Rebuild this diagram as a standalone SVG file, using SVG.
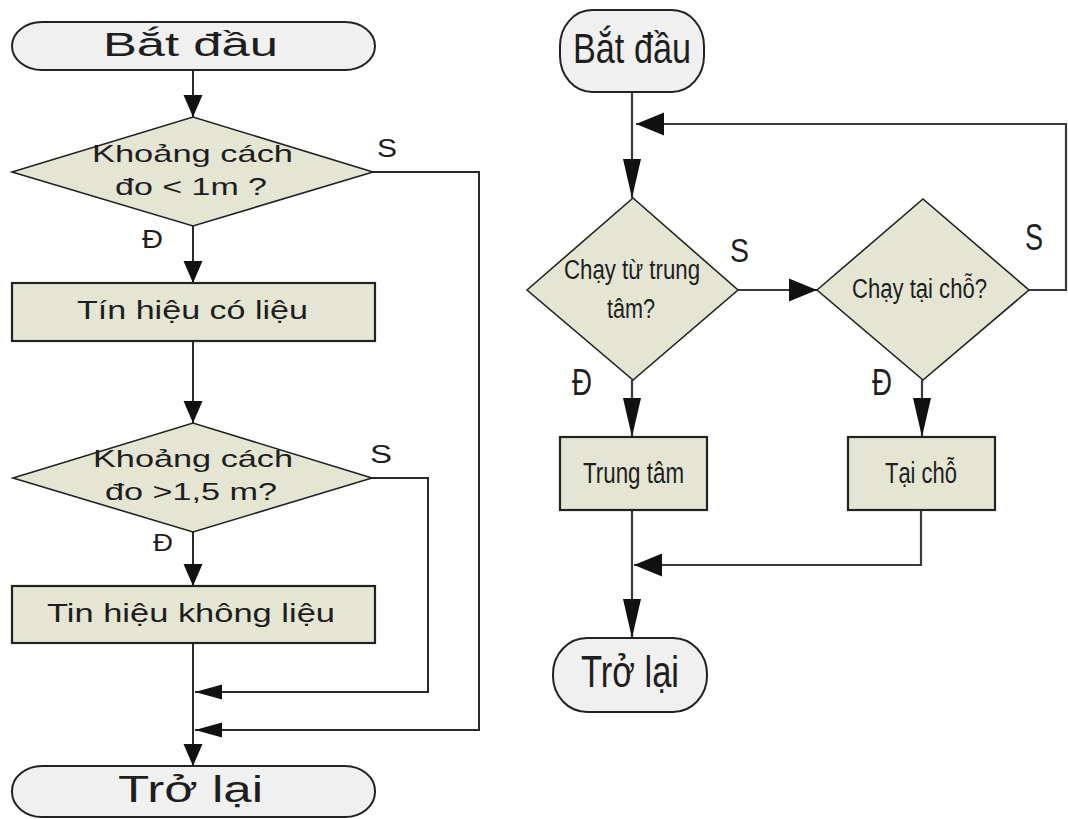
<svg xmlns="http://www.w3.org/2000/svg" width="1068" height="819" viewBox="0 0 1068 819">
  <style>
    .term { fill: #f0f0f0; stroke: #222; stroke-width: 2; }
    .dec { fill: #e5e5d3; stroke: #222; stroke-width: 1.6; }
    .proc { fill: #e5e5d3; stroke: #222; stroke-width: 2.2; }
    .wire { fill: none; stroke: #2a2a2a; stroke-width: 2; }
    .wireR { fill: none; stroke: #3a3a3a; stroke-width: 2.2; }
    text { font-family: "Liberation Sans", Arial, sans-serif; fill: #1e1e1e; text-anchor: middle; }
    .lbl { text-anchor: start; }
  </style>
  <defs>
    <!-- arrowheads: left chart -->
    <marker id="aLV" markerUnits="userSpaceOnUse" orient="auto" viewBox="0 -10 22 20" refX="22" refY="0" markerWidth="22" markerHeight="20">
      <path d="M0,-9.5 L22,0 L0,9.5 z" fill="#111"/>
    </marker>
    <marker id="aLH" markerUnits="userSpaceOnUse" orient="auto" viewBox="0 -8 27 16" refX="27" refY="0" markerWidth="27" markerHeight="16">
      <path d="M0,-7.5 L27,0 L0,7.5 z" fill="#111"/>
    </marker>
    <!-- arrowheads: right chart -->
    <marker id="aRV" markerUnits="userSpaceOnUse" orient="auto" viewBox="0 -10 39 20" refX="39" refY="0" markerWidth="39" markerHeight="20">
      <path d="M0,-9 L39,0 L0,9 z" fill="#111"/>
    </marker>
    <marker id="aRH" markerUnits="userSpaceOnUse" orient="auto" viewBox="0 -12 28 24" refX="28" refY="0" markerWidth="28" markerHeight="24">
      <path d="M0,-11.5 L28,0 L0,11.5 z" fill="#111"/>
    </marker>
  </defs>

  <!-- connectors -->
  <g id="connectors">
    <path class="wire" d="M193,70 V117" marker-end="url(#aLV)"/>
    <path class="wire" d="M193,226 V283" marker-end="url(#aLV)"/>
    <path class="wire" d="M193,341 V423" marker-end="url(#aLV)"/>
    <path class="wire" d="M193,532 V586" marker-end="url(#aLV)"/>
    <path class="wire" d="M193,643 V766" marker-end="url(#aLV)"/>
    <path class="wire" d="M372,172 H479 V730 H195" marker-end="url(#aLH)"/>
    <path class="wire" d="M372,478 H428 V692 H195" marker-end="url(#aLH)"/>

    <path class="wireR" d="M632,92 V198" marker-end="url(#aRV)"/>
    <path class="wireR" d="M1029,290 H1066 V124 H636" marker-end="url(#aRH)"/>
    <path class="wireR" d="M738,290 H817" marker-end="url(#aRH)"/>
    <path class="wireR" d="M632,380 V437" marker-end="url(#aRV)"/>
    <path class="wireR" d="M922,380 V437" marker-end="url(#aRV)"/>
    <path class="wireR" d="M632,510 V638" marker-end="url(#aRV)"/>
    <path class="wireR" d="M921,510 V565 H634" marker-end="url(#aRH)"/>
  </g>

  <!-- left flow -->
  <g id="l-start">
    <rect class="term" x="12" y="22" width="363" height="48" rx="30" ry="24"/>
    <text x="190.5" y="56" font-size="33" textLength="175" lengthAdjust="spacingAndGlyphs">Bắt đầu</text>
  </g>
  <g id="l-check1">
    <polygon class="dec" points="12,172 193,117 373,172 193,226"/>
    <text x="192.5" y="162" font-size="24" textLength="201" lengthAdjust="spacingAndGlyphs">Khoảng cách</text>
    <text x="191" y="195" font-size="24" textLength="152" lengthAdjust="spacingAndGlyphs">đo &lt; 1m ?</text>
    <text class="lbl" x="377" y="157" font-size="25" textLength="20" lengthAdjust="spacingAndGlyphs">S</text>
    <text class="lbl" x="142" y="248" font-size="25" textLength="21" lengthAdjust="spacingAndGlyphs">Đ</text>
  </g>
  <g id="l-signal">
    <rect class="proc" x="12" y="283" width="363" height="58"/>
    <text x="192.5" y="319" font-size="25" textLength="231" lengthAdjust="spacingAndGlyphs">Tín hiệu có liệu</text>
  </g>
  <g id="l-check2">
    <polygon class="dec" points="13,478 193,423 372,478 193,532"/>
    <text x="193" y="467" font-size="24" textLength="200" lengthAdjust="spacingAndGlyphs">Khoảng cách</text>
    <text x="191" y="500" font-size="24" textLength="172" lengthAdjust="spacingAndGlyphs">đo &gt;1,5 m?</text>
    <text class="lbl" x="370" y="463" font-size="25" textLength="22" lengthAdjust="spacingAndGlyphs">S</text>
    <text class="lbl" x="153" y="551" font-size="24" textLength="20" lengthAdjust="spacingAndGlyphs">Đ</text>
  </g>
  <g id="l-nosignal">
    <rect class="proc" x="12" y="586" width="363" height="57"/>
    <text x="191" y="622" font-size="25" textLength="288" lengthAdjust="spacingAndGlyphs">Tin hiệu không liệu</text>
  </g>
  <g id="l-end">
    <rect class="term" x="12" y="766" width="363" height="51" rx="30" ry="25"/>
    <text x="190.5" y="802" font-size="36" textLength="145" lengthAdjust="spacingAndGlyphs">Trở lại</text>
  </g>

  <!-- right flow -->
  <g id="r-start">
    <rect class="term" x="560" y="10" width="144" height="82" rx="32" ry="36"/>
    <text x="632" y="63" font-size="42" textLength="118" lengthAdjust="spacingAndGlyphs">Bắt đầu</text>
  </g>
  <g id="r-check1">
    <polygon class="dec" points="527,290 633,198 738,290 633,380"/>
    <text x="632" y="279" font-size="27" textLength="136" lengthAdjust="spacingAndGlyphs">Chạy từ trung</text>
    <text x="631" y="318" font-size="27" textLength="48" lengthAdjust="spacingAndGlyphs">tâm?</text>
    <text class="lbl" x="730" y="262" font-size="34" textLength="19" lengthAdjust="spacingAndGlyphs">S</text>
    <text class="lbl" x="572" y="395" font-size="36" textLength="20" lengthAdjust="spacingAndGlyphs">Đ</text>
  </g>
  <g id="r-check2">
    <polygon class="dec" points="817,290 923,199 1029,290 923,380"/>
    <text x="919.5" y="298" font-size="27" textLength="135" lengthAdjust="spacingAndGlyphs">Chạy tại chỗ?</text>
    <text class="lbl" x="1025" y="250" font-size="36" textLength="18" lengthAdjust="spacingAndGlyphs">S</text>
    <text class="lbl" x="872" y="395" font-size="36" textLength="20" lengthAdjust="spacingAndGlyphs">Đ</text>
  </g>
  <g id="r-center">
    <rect class="proc" x="560" y="437" width="147" height="73"/>
    <text x="633.5" y="483" font-size="29" textLength="101" lengthAdjust="spacingAndGlyphs">Trung tâm</text>
  </g>
  <g id="r-local">
    <rect class="proc" x="848" y="437" width="147" height="73"/>
    <text x="921" y="483" font-size="29" textLength="72" lengthAdjust="spacingAndGlyphs">Tại chỗ</text>
  </g>
  <g id="r-end">
    <rect class="term" x="553" y="638" width="154" height="74" rx="34" ry="36"/>
    <text x="630" y="687" font-size="44" textLength="98" lengthAdjust="spacingAndGlyphs">Trở lại</text>
  </g>
</svg>
